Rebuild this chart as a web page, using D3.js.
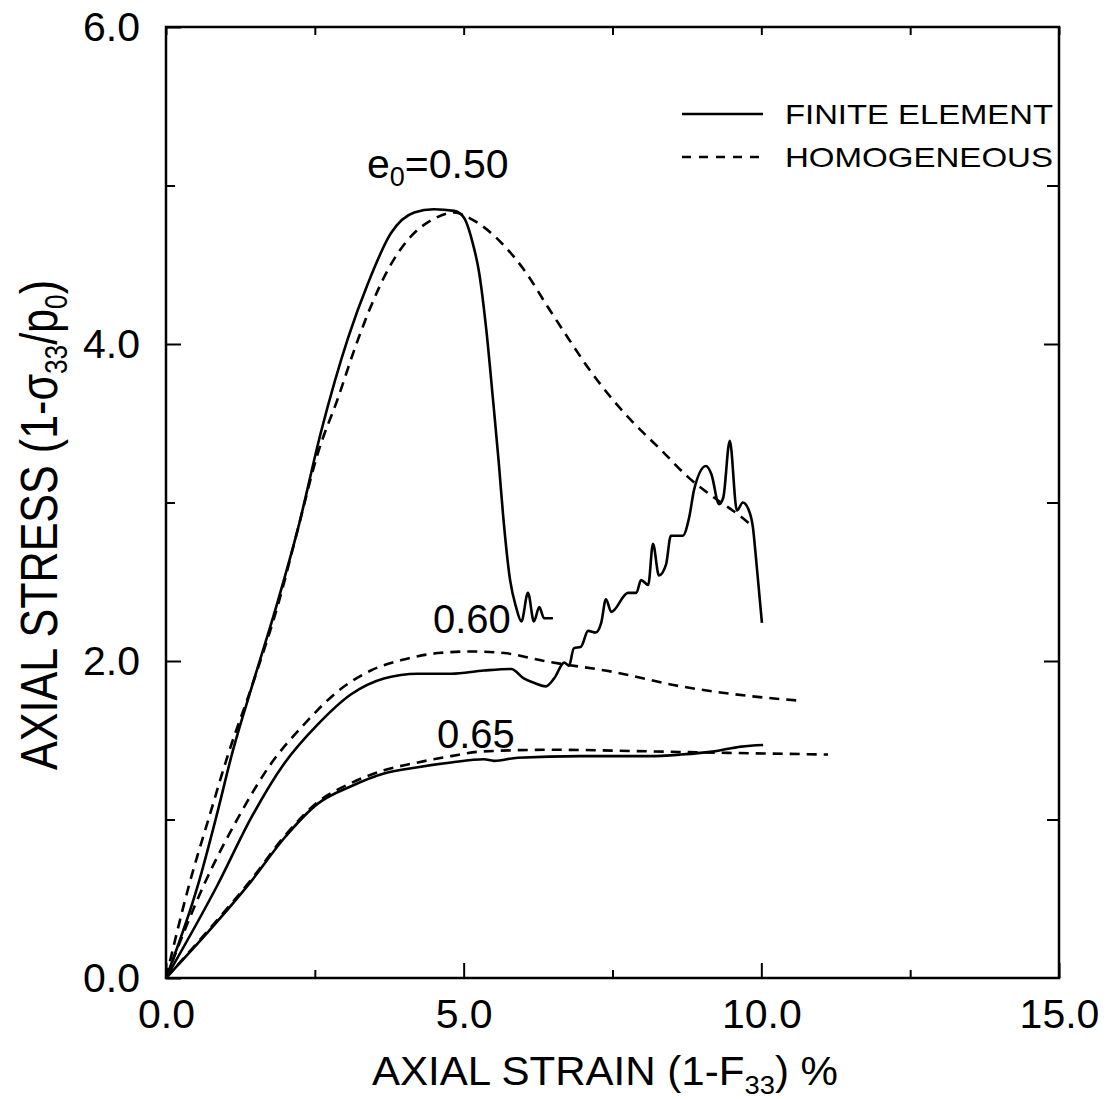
<!DOCTYPE html>
<html>
<head>
<meta charset="utf-8">
<script src="https://cdn.jsdelivr.net/npm/d3@7"></script>
<style>
  body { margin: 0; background: #fff; }
  svg { font-family: 'Liberation Sans', Arial, sans-serif; }
  .curve { fill: none; stroke: #000; stroke-width: 2.6; stroke-linejoin: round; }
  .dashed { stroke-dasharray: 10 7; }
  .tick line { stroke: #000; stroke-width: 2; }
</style>
</head>
<body>
<svg id="chart" width="1106" height="1099"></svg>
<script>
// e0 = 0.50
const strain050FE = [0, 0.54, 0.84, 1.12, 1.46, 1.88, 2.22, 2.60, 3.06, 3.39, 3.78, 4.17, 4.50, 4.84, 5.00, 5.15, 5.26, 5.38, 5.49, 5.59, 5.66, 5.78, 5.88, 5.97, 6.08, 6.18, 6.27, 6.35, 6.50];
const stress050FE = [0, 0.59, 1.01, 1.43, 1.86, 2.38, 2.84, 3.44, 4.04, 4.38, 4.70, 4.83, 4.85, 4.84, 4.80, 4.64, 4.45, 4.09, 3.66, 3.25, 2.93, 2.51, 2.34, 2.25, 2.43, 2.25, 2.34, 2.27, 2.27];
const strain050H = [0, 0.39, 0.72, 1.06, 1.46, 1.90, 2.22, 2.55, 2.89, 3.16, 3.39, 3.73, 4.07, 4.50, 4.84, 5.12, 5.63, 6.01, 6.42, 6.75, 7.09, 7.48, 7.86, 8.32, 8.77, 9.21, 9.66, 9.85];
const stress050H = [0, 0.59, 1.01, 1.43, 1.86, 2.38, 2.84, 3.31, 3.66, 3.96, 4.19, 4.47, 4.66, 4.79, 4.83, 4.79, 4.64, 4.47, 4.23, 4.04, 3.85, 3.66, 3.50, 3.33, 3.16, 3.03, 2.91, 2.85];

// e0 = 0.60
const strain060FE = [0, 0.87, 1.43, 1.98, 2.55, 3.11, 3.66, 4.23, 4.79, 5.34, 5.80, 6.01, 6.20, 6.38, 6.52, 6.69, 6.77, 6.85, 6.97, 7.09, 7.22, 7.31, 7.39, 7.48, 7.76, 7.90, 7.98, 8.10, 8.18, 8.28, 8.40, 8.48, 8.68, 8.79, 8.87, 9.07, 9.16, 9.29, 9.36, 9.47, 9.59, 9.69, 9.78, 9.86, 9.91, 10.01];
const stress060FE = [0, 0.59, 1.01, 1.35, 1.60, 1.79, 1.89, 1.92, 1.92, 1.94, 1.95, 1.89, 1.86, 1.84, 1.89, 1.99, 1.97, 2.08, 2.09, 2.19, 2.18, 2.24, 2.39, 2.31, 2.43, 2.43, 2.51, 2.48, 2.74, 2.54, 2.61, 2.79, 2.79, 2.91, 3.08, 3.23, 3.18, 2.99, 3.03, 3.39, 2.95, 3.00, 2.96, 2.84, 2.65, 2.24];
const strain060H = [0, 0.64, 1.21, 1.76, 2.32, 2.89, 3.44, 4.00, 4.57, 5.12, 5.68, 6.35, 7.53, 8.65, 9.78, 10.63];
const stress060H = [0, 0.59, 1.01, 1.35, 1.60, 1.81, 1.94, 2.01, 2.05, 2.06, 2.05, 2.00, 1.93, 1.84, 1.78, 1.75];

// e0 = 0.65
const strain065FE = [0, 0.87, 1.43, 1.98, 2.55, 3.11, 3.66, 4.23, 4.79, 5.34, 5.51, 5.91, 6.97, 8.10, 8.65, 9.21, 9.66, 10.03];
const stress065FE = [0, 0.36, 0.61, 0.88, 1.10, 1.21, 1.29, 1.33, 1.36, 1.38, 1.37, 1.39, 1.40, 1.40, 1.41, 1.43, 1.46, 1.47];
const strain065H = [0, 0.87, 1.43, 1.98, 2.55, 3.11, 3.66, 4.23, 4.79, 5.34, 6.50, 8.10, 9.50, 11.12];
const stress065H = [0, 0.37, 0.62, 0.89, 1.11, 1.23, 1.31, 1.36, 1.40, 1.43, 1.44, 1.43, 1.42, 1.41];

const xMajor = [0, 5, 10, 15];
const xMinor = [2.5, 7.5, 12.5];
const yMajor = [0, 2, 4, 6];
const yMinor = [1, 3, 5];

const legendLabels = ['FINITE ELEMENT', 'HOMOGENEOUS'];

const svg = d3.select('#chart');
const plotLeft = 166;
const plotRight = 1059;
const plotTop = 27;
const plotBottom = 978;

const x = d3.scaleLinear().domain([0, 15]).range([plotLeft, plotRight]);
const y = d3.scaleLinear().domain([0, 6]).range([plotBottom, plotTop]);

const fmt = d3.format('.1f');

// frame
svg.append('rect')
  .attr('x', plotLeft)
  .attr('y', plotTop)
  .attr('width', plotRight - plotLeft)
  .attr('height', plotBottom - plotTop)
  .attr('fill', 'none')
  .attr('stroke', '#000')
  .attr('stroke-width', 2.5);

const styleAxis = (g, size) => {
  g.select('.domain').remove();
  g.selectAll('text')
    .attr('fill', '#000')
    .style('font-size', `${size}px`)
    .style('font-family', "'Liberation Sans', Arial, sans-serif");
};

// bottom
svg.append('g')
  .attr('transform', `translate(0,${plotBottom})`)
  .call(d3.axisBottom(x).tickValues(xMajor).tickSize(-15).tickPadding(21).tickFormat(fmt))
  .call(g => styleAxis(g, 41));
svg.append('g')
  .attr('transform', `translate(0,${plotBottom})`)
  .call(d3.axisBottom(x).tickValues(xMinor).tickSize(-8).tickFormat(''))
  .call(g => styleAxis(g, 41));

// top
svg.append('g')
  .attr('transform', `translate(0,${plotTop})`)
  .call(d3.axisTop(x).tickValues(xMajor.concat(xMinor)).tickSize(-8).tickFormat(''))
  .call(g => styleAxis(g, 41));

// left
svg.append('g')
  .attr('transform', `translate(${plotLeft},0)`)
  .call(d3.axisLeft(y).tickValues(yMajor).tickSize(-15).tickPadding(26).tickFormat(fmt))
  .call(g => styleAxis(g, 41));
svg.append('g')
  .attr('transform', `translate(${plotLeft},0)`)
  .call(d3.axisLeft(y).tickValues(yMinor).tickSize(-9).tickFormat(''))
  .call(g => styleAxis(g, 41));

// right
svg.append('g')
  .attr('transform', `translate(${plotRight},0)`)
  .call(d3.axisRight(y).tickValues(yMajor.slice(1, 3)).tickSize(-15).tickFormat(''))
  .call(g => styleAxis(g, 41));
svg.append('g')
  .attr('transform', `translate(${plotRight},0)`)
  .call(d3.axisRight(y).tickValues(yMinor).tickSize(-12).tickFormat(''))
  .call(g => styleAxis(g, 41));

// curves
const line = d3.line()
  .x(d => x(d[0]))
  .y(d => y(d[1]))
  .curve(d3.curveMonotoneX);

const series = [
  { xs: strain050FE, ys: stress050FE, dashed: false },
  { xs: strain050H, ys: stress050H, dashed: true },
  { xs: strain060FE, ys: stress060FE, dashed: false },
  { xs: strain060H, ys: stress060H, dashed: true },
  { xs: strain065FE, ys: stress065FE, dashed: false },
  { xs: strain065H, ys: stress065H, dashed: true },
];

svg.selectAll('.curve')
  .data(series)
  .enter()
    .append('path')
    .attr('class', d => (d.dashed ? 'curve dashed' : 'curve'))
    .attr('d', d => line(d.xs.map((v, i) => [v, d.ys[i]])));

// legend
const legend = svg.append('g');
legendLabels.forEach((label, i) => {
  const ly = 114 + i * 43;
  legend.append('line')
    .attr('x1', 682)
    .attr('x2', 763)
    .attr('y1', ly)
    .attr('y2', ly)
    .attr('stroke', '#000')
    .attr('stroke-width', 2.6)
    .attr('stroke-dasharray', i === 1 ? '9 8' : null);
  legend.append('text')
    .attr('x', 785)
    .attr('y', ly + 10)
    .attr('textLength', 268)
    .attr('lengthAdjust', 'spacingAndGlyphs')
    .style('font-size', '28px')
    .text(label);
});

// curve labels
const e0 = svg.append('text')
  .attr('x', 367)
  .attr('y', 178)
  .style('font-size', '41px');
e0.append('tspan').text('e');
e0.append('tspan').attr('dy', 8).style('font-size', '27px').text('0');
e0.append('tspan').attr('dy', -8).text('=0.50');

svg.append('text')
  .attr('x', 433)
  .attr('y', 633)
  .style('font-size', '40px')
  .text('0.60');

svg.append('text')
  .attr('x', 437)
  .attr('y', 748)
  .style('font-size', '40px')
  .text('0.65');

// axis titles
const xTitle = svg.append('text')
  .attr('x', 372)
  .attr('y', 1085)
  .attr('textLength', 466)
  .attr('lengthAdjust', 'spacingAndGlyphs')
  .style('font-size', '40px');
xTitle.append('tspan').text('AXIAL STRAIN (1-F');
xTitle.append('tspan').attr('dy', 9).style('font-size', '26px').text('33');
xTitle.append('tspan').attr('dy', -9).text(') %');

const yTitle = svg.append('text')
  .attr('transform', 'translate(57,770) rotate(-90)')
  .attr('textLength', 490)
  .attr('lengthAdjust', 'spacingAndGlyphs')
  .style('font-size', '51px');
yTitle.append('tspan').text('AXIAL STRESS (1-σ');
yTitle.append('tspan').attr('dy', 10).style('font-size', '31px').text('33');
yTitle.append('tspan').attr('dy', -10).text('/p');
yTitle.append('tspan').attr('dy', 10).style('font-size', '31px').text('0');
yTitle.append('tspan').attr('dy', -10).text(')');
</script>
</body>
</html>
